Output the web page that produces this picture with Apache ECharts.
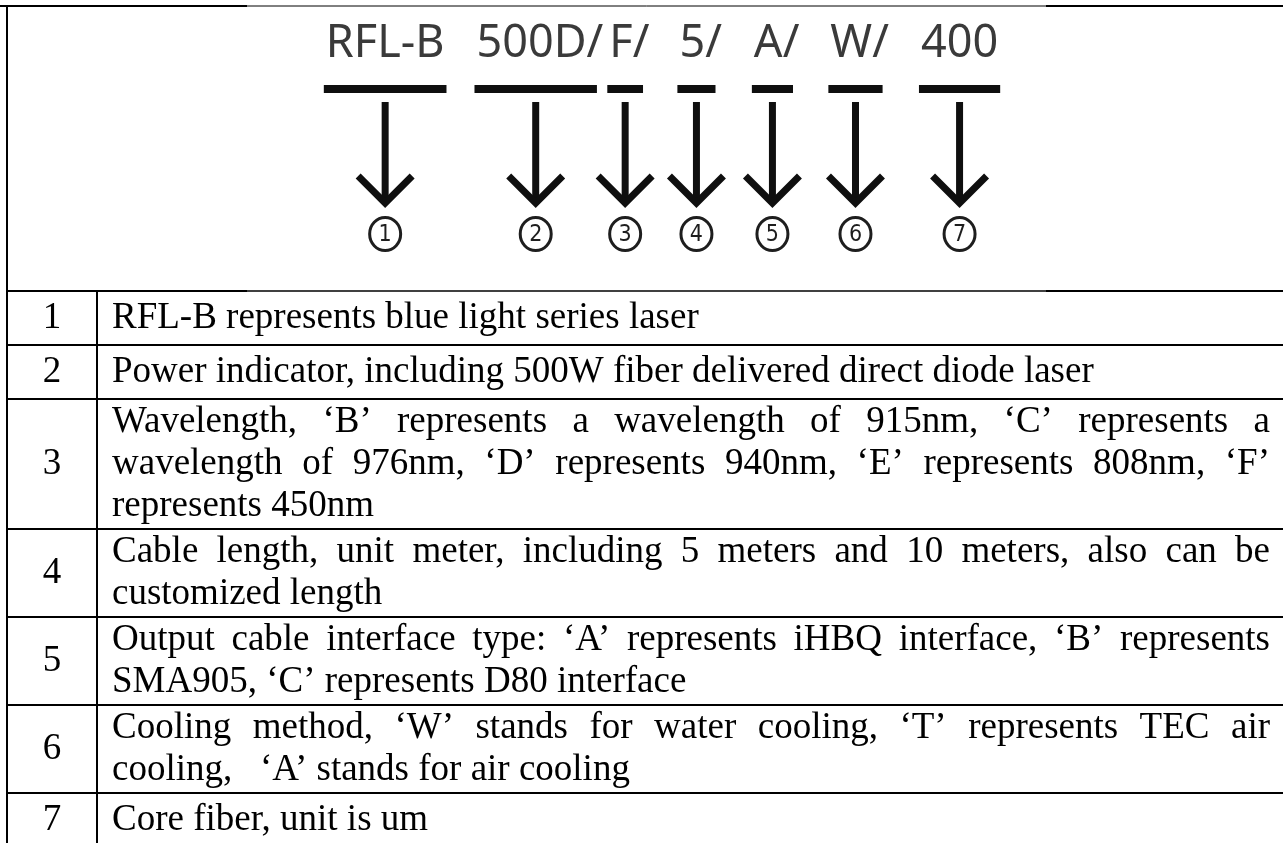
<!DOCTYPE html>
<html>
<head>
<meta charset="utf-8">
<script src="https://cdn.jsdelivr.net/npm/echarts@6/dist/echarts.min.js"></script>
<style>
html,body{margin:0;padding:0;background:#ffffff;}
#c{width:1283px;height:843px;}
</style>
</head>
<body>
<div id="c"></div>
<script>
// ---------- content ----------
const codeSegments = ['RFL-B', '500D/', 'F/', '5/', 'A/', 'W/', '400'];
const markerNumbers = ['1', '2', '3', '4', '5', '6', '7'];
const rowNumbers = ['1', '2', '3', '4', '5', '6', '7'];
const row1Lines = ['RFL-B represents blue light series laser'];
const row2Lines = ['Power indicator, including 500W fiber delivered direct diode laser'];
const row3Lines = [
  'Wavelength, \u2018B\u2019 represents a wavelength of 915nm, \u2018C\u2019 represents a',
  'wavelength of 976nm, \u2018D\u2019 represents 940nm, \u2018E\u2019 represents 808nm, \u2018F\u2019',
  'represents 450nm'
];
const row4Lines = [
  'Cable length, unit meter, including 5 meters and 10 meters, also can be',
  'customized length'
];
const row5Lines = [
  'Output cable interface type: \u2018A\u2019 represents iHBQ interface, \u2018B\u2019 represents',
  'SMA905, \u2018C\u2019 represents D80 interface'
];
const row6Lines = [
  'Cooling method, \u2018W\u2019 stands for water cooling, \u2018T\u2019 represents TEC air',
  'cooling,\u00a0\u00a0\u00a0\u2018A\u2019 stands for air cooling'
];
const row7Lines = ['Core fiber, unit is um'];
const rowDescriptions = [row1Lines, row2Lines, row3Lines, row4Lines, row5Lines, row6Lines, row7Lines];

// ---------- layout / style ----------
const W = 1283, H = 843;
const BORDER_TOP = 6, BORDER_LEFT = 7, COL_X = 97, HEADER_BOTTOM = 291;
const TEXT_LEFT = 112, TEXT_RIGHT = 1270, NUM_CENTER = 52;
const LINE_H = 42, MIN_ROW_H = 54, ROW_PAD = 4;
const SERIF_FONT = '37px "Liberation Serif", "Times New Roman", serif';
const CODE_FONT = '45px "Noto Sans", "Open Sans", sans-serif';
const MARK_FONT = '23px "DejaVu Sans Condensed", "Liberation Sans Narrow", "Noto Sans", sans-serif';
const CODE_GAPS = [32, 6, 30, 32, 31, 32];
const CODE_CENTER_X = 662, CODE_MID_Y = 44.5;
const BAR_Y = 89, BAR_W = 8, BAR_EXT = 2;
const SHAFT_TOP = 102, ARROW_TIP = 203, HEAD = 27, ARROW_W = 7;
const MARK_Y = 234, MARK_RX = 15.5, MARK_RY = 16.5;
const IMG_LEFT = 247, IMG_RIGHT = 1046;
const INK = '#000000', CODE_COLOR = '#3a3a3a', ARROW_COLOR = '#0f0f0f', MARK_COLOR = '#1e1e1e';

const mctx = document.createElement('canvas').getContext('2d');
function measure(text, font) { mctx.font = font; return mctx.measureText(text).width; }

const elements = [];
function hline(x1, x2, y, lw, color) {
  elements.push({type: 'line', shape: {x1: x1, y1: y, x2: x2, y2: y},
    style: {stroke: color || INK, lineWidth: lw}, silent: true});
}
function vline(x, y1, y2, lw, color) {
  elements.push({type: 'line', shape: {x1: x, y1: y1, x2: x, y2: y2},
    style: {stroke: color || INK, lineWidth: lw}, silent: true});
}
function text(str, x, y, font, fill, align) {
  elements.push({type: 'text', x: x, y: y, silent: true,
    style: {text: str, font: font, fill: fill, align: align || 'left', verticalAlign: 'middle',
            textAlign: align || 'left', textVerticalAlign: 'middle'}});
}

// ---- header diagram ----
const segW = codeSegments.map(s => measure(s, CODE_FONT));
const slashW = measure('/', CODE_FONT);
const totalW = segW.reduce((a, b) => a + b, 0) + CODE_GAPS.reduce((a, b) => a + b, 0);
let cx = CODE_CENTER_X - totalW / 2;
codeSegments.forEach((seg, i) => {
  const x0 = cx, x1 = cx + segW[i];
  text(seg, x0, CODE_MID_Y, CODE_FONT, CODE_COLOR, 'left');
  // bar under the code (trailing slash only half covered)
  const bx0 = x0 - BAR_EXT;
  const bx1 = (seg.endsWith('/') ? x1 - slashW * 0.5 : x1) + BAR_EXT;
  hline(bx0, bx1, BAR_Y, BAR_W, ARROW_COLOR);
  const ax = (bx0 + bx1) / 2;
  // arrow shaft
  vline(ax, SHAFT_TOP, ARROW_TIP - 2, ARROW_W, ARROW_COLOR);
  // arrow head
  elements.push({type: 'polyline', silent: true,
    shape: {points: [[ax - HEAD, ARROW_TIP - HEAD], [ax, ARROW_TIP], [ax + HEAD, ARROW_TIP - HEAD]]},
    style: {stroke: ARROW_COLOR, lineWidth: ARROW_W, fill: null, lineJoin: 'miter', lineCap: 'butt'}});
  // circled marker
  elements.push({type: 'ellipse', silent: true,
    shape: {cx: ax, cy: MARK_Y, rx: MARK_RX, ry: MARK_RY},
    style: {fill: 'none', stroke: MARK_COLOR, lineWidth: 3}});
  text(markerNumbers[i], ax, MARK_Y + 1, MARK_FONT, MARK_COLOR, 'center');
  cx = x1 + (CODE_GAPS[i] || 0);
});

// ---- table frame ----
hline(0, IMG_LEFT, BORDER_TOP, 2);
hline(IMG_LEFT, IMG_RIGHT, BORDER_TOP, 1);
hline(IMG_RIGHT, W, BORDER_TOP, 2);
vline(BORDER_LEFT, BORDER_TOP - 1, H, 2);

// ---- rows ----
let y = HEADER_BOTTOM;
rowDescriptions.forEach((lines, r) => {
  const h = Math.max(MIN_ROW_H, lines.length * LINE_H + ROW_PAD);
  if (r === 0) {
    hline(BORDER_LEFT, IMG_LEFT, y, 2);
    hline(IMG_LEFT, IMG_RIGHT, y, 1.4);
    hline(IMG_RIGHT, W, y, 2);
  } else {
    hline(BORDER_LEFT, W, y, 2);
  }
  vline(COL_X, y, Math.min(H, y + h), 2);
  const mid = y + h / 2;
  text(rowNumbers[r], NUM_CENTER, mid, SERIF_FONT, INK, 'center');
  const top = mid - lines.length * LINE_H / 2;
  lines.forEach((ln, li) => {
    const ly = top + LINE_H / 2 + li * LINE_H;
    const last = li === lines.length - 1;
    if (last) {
      text(ln, TEXT_LEFT, ly, SERIF_FONT, INK, 'left');
    } else {
      const words = ln.split(' ');
      const ws = words.map(w => measure(w, SERIF_FONT));
      const sum = ws.reduce((a, b) => a + b, 0);
      const gap = (TEXT_RIGHT - TEXT_LEFT - sum) / (words.length - 1);
      let wx = TEXT_LEFT;
      words.forEach((w, wi) => {
        text(w, wx, ly, SERIF_FONT, INK, 'left');
        wx += ws[wi] + gap;
      });
    }
  });
  y += h;
});

const chart = echarts.init(document.getElementById('c'), null, {renderer: 'canvas', width: W, height: H});
chart.setOption({
  backgroundColor: '#ffffff',
  animation: false,
  graphic: {elements: elements}
});
</script>
</body>
</html>
